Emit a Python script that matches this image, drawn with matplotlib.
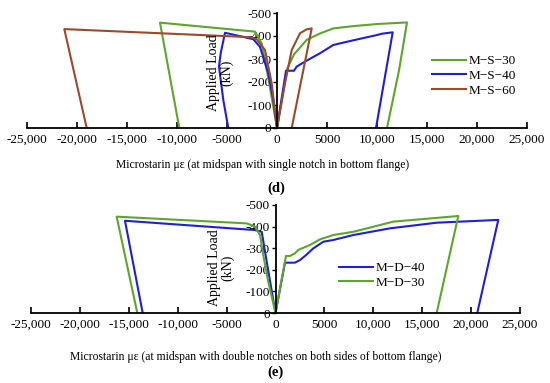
import matplotlib
matplotlib.use("Agg")
import matplotlib.pyplot as plt

plt.rcParams['font.family'] = ['Liberation Serif', 'DejaVu Serif']
plt.rcParams['axes.unicode_minus'] = False

# ---- Panel (d): single notch ----
ms30_x = [-9770, -11700, -2200, -1530, -800, 0, 1030, 1700, 2970, 4300, 5630, 7630, 10000, 13000, 12200, 11000]
ms30_y = [0, -458, -419, -368, -200, 0, -259, -320, -383, -411, -433, -443, -452, -459, -250, 0]

ms40_x = [-4870, -5370, -5800, -5630, -5200, -2370, -1700, -870, -370, 0, 900, 1700, 1970, 2970, 4300, 5630, 7500, 9970, 10500, 11570, 9900]
ms40_y = [0, -122, -267, -325, -414, -386, -353, -238, -122, 0, -249, -249, -267, -293, -325, -361, -380, -404, -410, -416, 0]

ms60_x = [-19030, -21270, -2700, -2030, -1200, -530, 0, 800, 1470, 2300, 2970, 3470, 1470]
ms60_y = [0, -430, -395, -386, -339, -194, 0, -194, -339, -412, -429, -433, 0]

# ---- Panel (e): double notches ----
md40_x = [-13580, -15390, -2100, -1410, -900, 0, 970, 1990, 2500, 3120, 3860, 4890, 5910, 7960, 11710, 16480, 22780, 20630]
md40_y = [0, -427, -384, -376, -238, 0, -233, -233, -245, -268, -299, -330, -338, -361, -392, -418, -431, 0]

md30_x = [-14130, -16240, -2950, -2100, -1580, -1250, -740, 0, 1070, 1480, 1990, 2330, 3530, 4550, 5910, 7960, 12050, 18690, 16480]
md30_y = [0, -446, -415, -400, -361, -268, -145, 0, -264, -264, -276, -292, -315, -341, -361, -376, -423, -449, 0]

xticks = [-25000, -20000, -15000, -10000, -5000, 0, 5000, 10000, 15000, 20000, 25000]
xtick_labels = ['-25,000', '-20,000', '-15,000', '-10,000', '-5000', '0', '5000', '10,000', '15,000', '20,000', '25,000']
yticks = [0, -100, -200, -300, -400, -500]
ytick_labels = ['0', '-100', '-200', '-300', '-400', '-500']

green = '#5ea52c'
blue = '#1f1fd6'
brown = '#9b4a2b'

W, H = 550, 383
fig = plt.figure(figsize=(5.5, 3.83), dpi=100)

def fx(px):
    return px / W

def fy(py):
    return 1 - py / H

ax1 = fig.add_axes([fx(27), fy(128), 500 / W, 115 / H])
ax2 = fig.add_axes([fx(31), fy(313), 489 / W, 108 / H])

for ax in (ax1, ax2):
    ax.set_xlim(-25000, 25000)
    ax.set_ylim(0, -500)
    ax.spines['top'].set_visible(False)
    ax.spines['right'].set_visible(False)
    ax.spines['left'].set_position(('data', 0))
    ax.spines['left'].set_linewidth(1.3)
    ax.spines['bottom'].set_linewidth(1.3)
    ax.set_xticks(xticks)
    ax.set_xticklabels(xtick_labels)
    ax.set_yticks(yticks)
    ax.set_yticklabels(ytick_labels)
    ax.tick_params(axis='x', direction='in', length=4, width=1.2, labelsize=9.5, pad=4)
    ax.tick_params(axis='y', direction='out', length=3, width=1.0, labelsize=9.5, pad=1)
    ax.patch.set_alpha(0)

lw = 1.5
ax1.plot(ms30_x, ms30_y, color=green, lw=lw, label='M\u2212S\u221230')
ax1.plot(ms40_x, ms40_y, color=blue, lw=lw, label='M\u2212S\u221240')
ax1.plot(ms60_x, ms60_y, color=brown, lw=lw, label='M\u2212S\u221260')

ax2.plot(md40_x, md40_y, color=blue, lw=lw, label='M\u2212D\u221240')
ax2.plot(md30_x, md30_y, color=green, lw=lw, label='M\u2212D\u221230')

leg_kw = dict(frameon=False, fontsize=9.5, handlelength=2.6, handletextpad=0.2,
              borderpad=0, borderaxespad=0, labelspacing=0.2, loc='upper left')
ax1.legend(bbox_to_anchor=(fx(432), fy(55)), bbox_transform=fig.transFigure, **leg_kw)
ax2.legend(bbox_to_anchor=(fx(339), fy(262)), bbox_transform=fig.transFigure, **leg_kw)

fig.text(fx(220), fy(73), 'Applied Load\n(kN)', rotation=90, ha='center', va='center',
         fontsize=10, linespacing=1.0)
fig.text(fx(221), fy(268), 'Applied Load\n(kN)', rotation=90, ha='center', va='center',
         fontsize=10, linespacing=1.0)

fig.text(fx(263), fy(165), 'Microstarin \u03bc\u03b5 (at midspan with single notch in bottom flange)',
         ha='center', va='center', fontsize=8.4)
fig.text(fx(256), fy(357), 'Microstarin \u03bc\u03b5 (at midspan with double notches on both sides of bottom flange)',
         ha='center', va='center', fontsize=8.4)

fig.text(fx(276), fy(188), '(d)', ha='center', va='center', fontsize=10.5, fontweight='bold')
fig.text(fx(276), fy(372), '(e)', ha='center', va='center', fontsize=10.5, fontweight='bold')

fig.savefig('out.png', dpi=100)
